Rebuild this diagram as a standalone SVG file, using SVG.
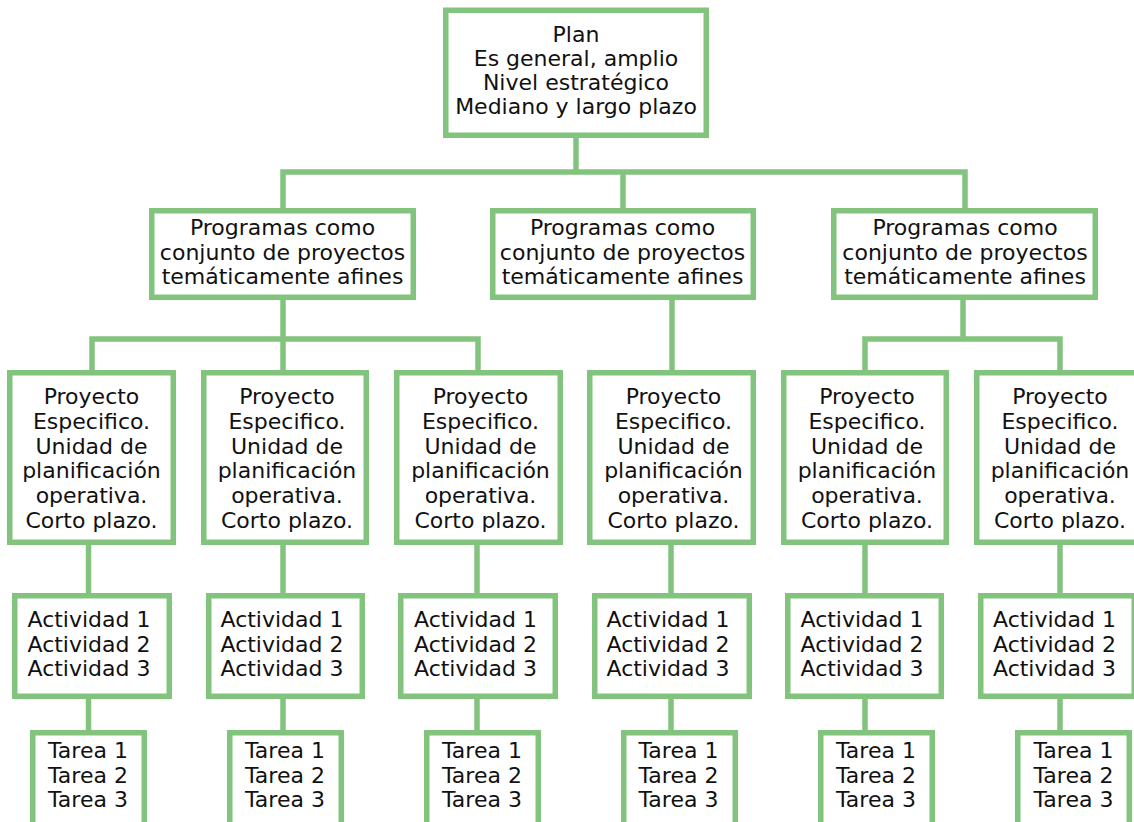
<svg xmlns="http://www.w3.org/2000/svg" width="1134" height="822" viewBox="0 0 1134 822">
<style>
.box{fill:#ffffff;stroke:#82c47e;stroke-width:5.5}
.c{fill:none;stroke:#82c47e;stroke-width:5.5;stroke-linejoin:miter;stroke-linecap:butt}
text{font-family:"DejaVu Sans",Verdana,sans-serif;font-size:22px;fill:#111111;text-anchor:middle}
</style>
<rect width="1134" height="822" fill="#ffffff"/>
<g id="connectors">
<path class="c" d="M576,138 V172"/>
<path class="c" d="M283,208 V172 H965 V208"/>
<path class="c" d="M623,172 V208"/>
<path class="c" d="M92,370 V339 H478 V370"/>
<path class="c" d="M283,300 V370"/>
<path class="c" d="M672,300 V370"/>
<path class="c" d="M963,300 V339"/>
<path class="c" d="M865,370 V339 H1060 V370"/>
<path class="c" d="M88.5,545 V593 M88.5,699 V730"/>
<path class="c" d="M283,545 V593 M283,699 V730"/>
<path class="c" d="M477,545 V593 M477,699 V730"/>
<path class="c" d="M671,545 V593 M671,699 V730"/>
<path class="c" d="M865,545 V593 M865,699 V730"/>
<path class="c" d="M1060,545 V593 M1060,699 V730"/>
</g>
<g id="plan">
<rect class="box" x="445.75" y="10.25" width="260.5" height="125"/>
<text x="576" y="42">Plan</text>
<text x="576" y="66">Es general, amplio</text>
<text x="576" y="90">Nivel estratégico</text>
<text x="576" y="114">Mediano y largo plazo</text>
</g>
<g id="programa1">
<rect class="box" x="151.75" y="210.75" width="261.5" height="86.5"/>
<text x="282.5" y="235">Programas como</text>
<text x="282.5" y="260">conjunto de proyectos</text>
<text x="282.5" y="284">temáticamente afines</text>
</g>
<g id="programa2">
<rect class="box" x="492.75" y="210.75" width="260.5" height="86.5"/>
<text x="622.5" y="235">Programas como</text>
<text x="622.5" y="260">conjunto de proyectos</text>
<text x="622.5" y="284">temáticamente afines</text>
</g>
<g id="programa3">
<rect class="box" x="833.75" y="210.75" width="261.5" height="86.5"/>
<text x="965" y="235">Programas como</text>
<text x="965" y="260">conjunto de proyectos</text>
<text x="965" y="284">temáticamente afines</text>
</g>
<g id="proyecto1">
<rect class="box" x="9.75" y="372.75" width="163.5" height="169.5"/>
<text x="91.5" y="404">Proyecto</text><text x="91.5" y="429">Especifico.</text><text x="91.5" y="453.5">Unidad de</text><text x="91.5" y="478">planificación</text><text x="91.5" y="503">operativa.</text><text x="91.5" y="528">Corto plazo.</text>
</g>
<g id="proyecto2">
<rect class="box" x="203.75" y="372.75" width="162.5" height="169.5"/>
<text x="287" y="404">Proyecto</text><text x="287" y="429">Especifico.</text><text x="287" y="453.5">Unidad de</text><text x="287" y="478">planificación</text><text x="287" y="503">operativa.</text><text x="287" y="528">Corto plazo.</text>
</g>
<g id="proyecto3">
<rect class="box" x="396.75" y="372.75" width="163.5" height="169.5"/>
<text x="480.5" y="404">Proyecto</text><text x="480.5" y="429">Especifico.</text><text x="480.5" y="453.5">Unidad de</text><text x="480.5" y="478">planificación</text><text x="480.5" y="503">operativa.</text><text x="480.5" y="528">Corto plazo.</text>
</g>
<g id="proyecto4">
<rect class="box" x="589.75" y="372.75" width="163.5" height="169.5"/>
<text x="673.5" y="404">Proyecto</text><text x="673.5" y="429">Especifico.</text><text x="673.5" y="453.5">Unidad de</text><text x="673.5" y="478">planificación</text><text x="673.5" y="503">operativa.</text><text x="673.5" y="528">Corto plazo.</text>
</g>
<g id="proyecto5">
<rect class="box" x="783.75" y="372.75" width="162.5" height="169.5"/>
<text x="867" y="404">Proyecto</text><text x="867" y="429">Especifico.</text><text x="867" y="453.5">Unidad de</text><text x="867" y="478">planificación</text><text x="867" y="503">operativa.</text><text x="867" y="528">Corto plazo.</text>
</g>
<g id="proyecto6">
<rect class="box" x="976.75" y="372.75" width="162.5" height="169.5"/>
<text x="1060" y="404">Proyecto</text><text x="1060" y="429">Especifico.</text><text x="1060" y="453.5">Unidad de</text><text x="1060" y="478">planificación</text><text x="1060" y="503">operativa.</text><text x="1060" y="528">Corto plazo.</text>
</g>
<g id="actividades1">
<rect class="box" x="14.75" y="595.75" width="154.5" height="100.5"/>
<text x="89" y="627">Actividad 1</text><text x="89" y="651.5">Actividad 2</text><text x="89" y="676">Actividad 3</text>
</g>
<g id="actividades2">
<rect class="box" x="208.75" y="595.75" width="153.5" height="100.5"/>
<text x="282" y="627">Actividad 1</text><text x="282" y="651.5">Actividad 2</text><text x="282" y="676">Actividad 3</text>
</g>
<g id="actividades3">
<rect class="box" x="400.75" y="595.75" width="154.5" height="100.5"/>
<text x="475.5" y="627">Actividad 1</text><text x="475.5" y="651.5">Actividad 2</text><text x="475.5" y="676">Actividad 3</text>
</g>
<g id="actividades4">
<rect class="box" x="594.75" y="595.75" width="154.5" height="100.5"/>
<text x="668" y="627">Actividad 1</text><text x="668" y="651.5">Actividad 2</text><text x="668" y="676">Actividad 3</text>
</g>
<g id="actividades5">
<rect class="box" x="787.75" y="595.75" width="153.5" height="100.5"/>
<text x="862" y="627">Actividad 1</text><text x="862" y="651.5">Actividad 2</text><text x="862" y="676">Actividad 3</text>
</g>
<g id="actividades6">
<rect class="box" x="980.75" y="595.75" width="153.5" height="100.5"/>
<text x="1054.5" y="627">Actividad 1</text><text x="1054.5" y="651.5">Actividad 2</text><text x="1054.5" y="676">Actividad 3</text>
</g>
<g id="tareas1">
<rect class="box" x="32.75" y="732.75" width="111.5" height="100"/>
<text x="88" y="758">Tarea 1</text><text x="88" y="782.5">Tarea 2</text><text x="88" y="806.5">Tarea 3</text>
</g>
<g id="tareas2">
<rect class="box" x="229.75" y="732.75" width="111.5" height="100"/>
<text x="285" y="758">Tarea 1</text><text x="285" y="782.5">Tarea 2</text><text x="285" y="806.5">Tarea 3</text>
</g>
<g id="tareas3">
<rect class="box" x="426.75" y="732.75" width="111.5" height="100"/>
<text x="482" y="758">Tarea 1</text><text x="482" y="782.5">Tarea 2</text><text x="482" y="806.5">Tarea 3</text>
</g>
<g id="tareas4">
<rect class="box" x="623.75" y="732.75" width="111.5" height="100"/>
<text x="678.5" y="758">Tarea 1</text><text x="678.5" y="782.5">Tarea 2</text><text x="678.5" y="806.5">Tarea 3</text>
</g>
<g id="tareas5">
<rect class="box" x="820.75" y="732.75" width="111.5" height="100"/>
<text x="876" y="758">Tarea 1</text><text x="876" y="782.5">Tarea 2</text><text x="876" y="806.5">Tarea 3</text>
</g>
<g id="tareas6">
<rect class="box" x="1017.75" y="732.75" width="111.5" height="100"/>
<text x="1073.5" y="758">Tarea 1</text><text x="1073.5" y="782.5">Tarea 2</text><text x="1073.5" y="806.5">Tarea 3</text>
</g>
</svg>
